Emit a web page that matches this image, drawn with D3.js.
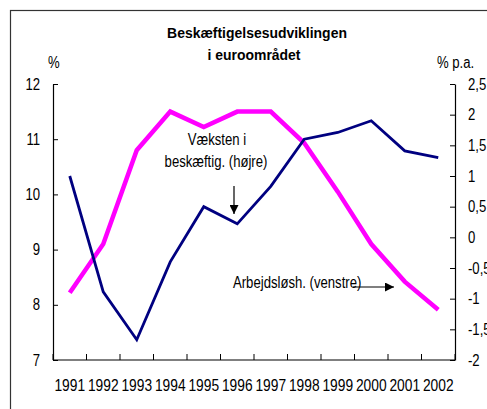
<!DOCTYPE html>
<html><head><meta charset="utf-8">
<script src="https://cdn.jsdelivr.net/npm/d3@7"></script>
<style>
body{margin:0;background:#fff;}
text{font-family:"Liberation Sans",Arial,sans-serif;fill:#000;}
</style></head>
<body><svg id="c" width="487" height="409"></svg>
<script>
const years = ["1991","1992","1993","1994","1995","1996","1997","1998","1999","2000","2001","2002"];
const unemployment = [8.22, 9.1, 10.8, 11.5, 11.22, 11.5, 11.5, 10.93, 10.05, 9.1, 8.42, 7.91];
const employmentGrowth = [1.0, -0.89, -1.67, -0.4, 0.5, 0.22, 0.83, 1.6, 1.71, 1.9, 1.41, 1.3];
const leftTicks = [7, 8, 9, 10, 11, 12];
const rightTicks = [-2, -1.5, -1, -0.5, 0, 0.5, 1, 1.5, 2, 2.5];

const svg = d3.select("#c");
const L = 53, R = 455, T = 84, B = 360;
const FF = '"Liberation Sans",Arial,sans-serif';

// frame
svg.append("rect").attr("x",10.5).attr("y",10.5).attr("width",500).attr("height",420)
  .attr("fill","none").attr("stroke","#333").attr("stroke-width",1.2);

const x = d3.scaleBand().domain(years).range([L,R]);
const yL = d3.scaleLinear().domain([7,12]).range([B,T]);
const yR = d3.scaleLinear().domain([-2,2.5]).range([B,T]);
const fmt = d => String(d).replace(".", ",");

// axes
const gL = svg.append("g").attr("transform",`translate(${L},0)`)
  .call(d3.axisLeft(yL).tickValues(leftTicks).tickFormat(d3.format("d")).tickSizeInner(-5).tickSizeOuter(0).tickPadding(13));
const gR = svg.append("g").attr("transform",`translate(${R},0)`)
  .call(d3.axisRight(yR).tickValues(rightTicks).tickFormat(fmt).tickSizeInner(-5).tickSizeOuter(0).tickPadding(13));
const gB = svg.append("g").attr("transform",`translate(0,${B})`)
  .call(d3.axisBottom(x).tickSize(0).tickPadding(20));
const bounds = d3.range(years.length+1).map(i => L + i*x.step());
gB.selectAll("line.bt").data(bounds).join("line").attr("class","bt")
  .attr("x1",d=>d).attr("x2",d=>d).attr("y1",0).attr("y2",-6).attr("stroke","#000");
[gL,gR,gB].forEach(g=>{
  g.selectAll(".domain").attr("stroke","#000").attr("stroke-width",1.2);
  g.selectAll(".tick line").attr("stroke","#000");
  g.selectAll("text").style("font-size","16px").attr("fill","#000").style("font-family",FF);
});
gB.select(".domain").attr("d",`M${L},0H${R}`);
gB.selectAll("text").attr("data-r", 0.86);

// lines
const cx = d => x(d) + x.bandwidth()/2;
svg.append("path").datum(unemployment.map((v,i)=>[cx(years[i]), yL(v)]))
  .attr("d", d3.line()).attr("fill","none").attr("stroke","#FF00FF").attr("stroke-width",4.5);
svg.append("path").datum(employmentGrowth.map((v,i)=>[cx(years[i]), yR(v)]))
  .attr("d", d3.line()).attr("fill","none").attr("stroke","#000080").attr("stroke-width",2.8);

// titles
svg.append("text").attr("x",257).attr("y",38).attr("text-anchor","middle").attr("data-r",0.93)
  .style("font-size","15px").style("font-weight","bold").text("Beskæftigelsesudviklingen");
svg.append("text").attr("x",254).attr("y",60).attr("text-anchor","middle").attr("data-r",0.93)
  .style("font-size","15px").style("font-weight","bold").text("i euroområdet");
svg.append("text").attr("x",48).attr("y",68).style("font-size","16px").text("%");
svg.append("text").attr("x",437).attr("y",68).style("font-size","16px").text("% p.a.");

// annotations
svg.append("text").attr("x",217).attr("y",145).attr("text-anchor","middle").style("font-size","16px").text("Væksten i");
svg.append("text").attr("x",216).attr("y",167).attr("text-anchor","middle").style("font-size","16px").text("beskæftig. (højre)");
svg.append("text").attr("x",233).attr("y",288).style("font-size","16px").text("Arbejdsløsh. (venstre)");

const defs = svg.append("defs");
defs.append("marker").attr("id","ah").attr("viewBox","0 0 10 10").attr("refX",10).attr("refY",5)
  .attr("markerWidth",9).attr("markerHeight",9).attr("markerUnits","userSpaceOnUse").attr("orient","auto")
  .append("path").attr("d","M0,0L10,5L0,10Z").attr("fill","#000");
svg.append("line").attr("x1",234).attr("y1",186).attr("x2",234).attr("y2",214)
  .attr("stroke","#000").attr("stroke-width",1.2).attr("marker-end","url(#ah)");
svg.append("line").attr("x1",353).attr("y1",287).attr("x2",394).attr("y2",287)
  .attr("stroke","#000").attr("stroke-width",1.2).attr("marker-end","url(#ah)");

// narrow glyphs (Arial Narrow look)
svg.selectAll("text").each(function(){
  const r = +(this.getAttribute("data-r") || 0.82);
  const w = this.getComputedTextLength();
  d3.select(this).attr("textLength", w*r).attr("lengthAdjust","spacingAndGlyphs");
});
</script></body></html>
